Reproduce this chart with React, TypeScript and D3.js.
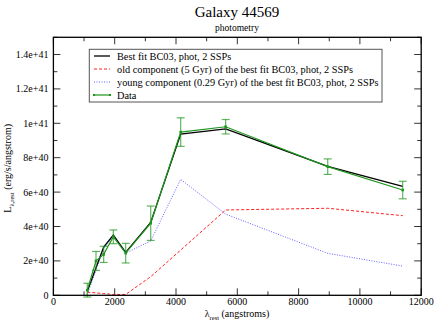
import React from "react";
import * as d3 from "d3";

const wavelengths = [1106, 1390, 1640, 1955, 2358, 3175, 4153, 5620, 8950, 11396];
const dataFlux = [0.3, 2.0, 2.38, 3.4, 2.45, 4.19, 9.49, 9.8, 7.48, 6.12];
const dataErr = [0.4, 0.55, 0.47, 0.4, 0.57, 1.0, 0.83, 0.42, 0.45, 0.51];
const bestFit = [0.23, 1.6, 2.8, 3.5, 2.5, 4.24, 9.37, 9.68, 7.5, 6.33];
const oldComp = [0.18, 0.14, 0.1, 0.05, 0.05, 1.08, 2.63, 4.96, 5.06, 4.63];
const youngComp = [0.05, 1.46, 2.7, 3.45, 2.45, 3.16, 6.74, 4.72, 2.44, 1.7];
const xTicks = [0, 2000, 4000, 6000, 8000, 10000, 12000];
const yTicks = [0, 2, 4, 6, 8, 10, 12, 14];
const yTickLabels = ["0", "2e+40", "4e+40", "6e+40", "8e+40", "1e+41", "1.2e+41", "1.4e+41"];
const legendLabels = [
  "Best fit BC03, phot, 2 SSPs",
  "old component (5 Gyr) of the best fit BC03, phot, 2 SSPs",
  "young component (0.29 Gyr) of the best fit BC03, phot, 2 SSPs",
  "Data",
];

const W = 436, H = 323;
const L = 53.4, R = 421.2, T = 37.3, B = 295.3;
const GREEN = "#1e961e";
const FONT = "Liberation Serif, Times New Roman, Times, DejaVu Serif, serif";

export default function App() {
  const x = d3.scaleLinear().domain([0, 12000]).range([L, R]);
  const y = d3.scaleLinear().domain([0, 15]).range([B, T]);
  const line = (vals: number[]) =>
    d3.line<number>().x((_, i) => x(wavelengths[i])).y((v) => y(v))(vals) || "";
  const xMinor = d3.range(0, 12001, 1000);
  const yMinor = d3.range(0, 15.01, 1);
  const legX = 89.3, legY = 49.3;
  const rowY = [56, 69, 82, 95];
  const legStyles = [
    { stroke: "#000", dash: undefined as string | undefined, w: 1.3 },
    { stroke: "#ff2020", dash: "3,2", w: 1 },
    { stroke: "#6060ff", dash: "1,1.5", w: 1 },
    { stroke: GREEN, dash: undefined, w: 1.2 },
  ];
  return (
    <svg width={W} height={H} style={{ position: "absolute", left: 0, top: 0, background: "#fff", fontFamily: FONT }}>
      <text x={237} y={17} textAnchor="middle" fontSize={15}>Galaxy 44569</text>
      <text x={237} y={31} textAnchor="middle" fontSize={9.5}>photometry</text>
      {xMinor.map((v) => (
        <g key={"xm" + v}>
          <line x1={x(v)} x2={x(v)} y1={B} y2={B - (v % 2000 === 0 ? 7 : 4)} stroke="#000" strokeWidth={0.8} />
          <line x1={x(v)} x2={x(v)} y1={T} y2={T + (v % 2000 === 0 ? 7 : 4)} stroke="#000" strokeWidth={0.8} />
        </g>
      ))}
      {yMinor.map((v) => (
        <g key={"ym" + v}>
          <line x1={L} x2={L + (v % 2 === 0 ? 7 : 4)} y1={y(v)} y2={y(v)} stroke="#000" strokeWidth={0.8} />
          <line x1={R} x2={R - (v % 2 === 0 ? 7 : 4)} y1={y(v)} y2={y(v)} stroke="#000" strokeWidth={0.8} />
        </g>
      ))}
      {xTicks.map((v) => (
        <text key={"xt" + v} x={x(v)} y={B + 10} textAnchor="middle" fontSize={10}>{v}</text>
      ))}
      {yTicks.map((v, i) => (
        <text key={"yt" + v} x={L - 5} y={y(v) + 3.5} textAnchor="end" fontSize={10}>{yTickLabels[i]}</text>
      ))}
      <text x={237} y={317} textAnchor="middle" fontSize={10}>
        λ<tspan fontSize={6.5} dy={2.5}>rest</tspan><tspan dy={-2.5}> (angstroms)</tspan>
      </text>
      <text transform={`translate(11,${(T + B) / 2 + 2}) rotate(-90)`} textAnchor="middle" fontSize={10}>
        L<tspan fontSize={6.5} dy={2.5}>λ,rest</tspan><tspan dy={-2.5}> (erg/s/angstrom)</tspan>
      </text>
      <path d={line(oldComp)} fill="none" stroke="#ff2020" strokeWidth={1} strokeDasharray="3,2" />
      <path d={line(youngComp)} fill="none" stroke="#6060ff" strokeWidth={1} strokeDasharray="1,1.5" />
      <path d={line(bestFit)} fill="none" stroke="#000" strokeWidth={1.3} />
      <path d={line(dataFlux)} fill="none" stroke={GREEN} strokeWidth={1.2} />
      {wavelengths.map((w, i) => {
        const cx = x(w);
        const y1 = y(dataFlux[i] + dataErr[i]);
        const y2 = y(dataFlux[i] - dataErr[i]);
        return (
          <g key={"e" + i} stroke={GREEN} strokeOpacity={0.7} strokeWidth={1.2}>
            <line x1={cx} x2={cx} y1={y1} y2={y2} />
            <line x1={cx - 4} x2={cx + 4} y1={y1} y2={y1} />
            <line x1={cx - 4} x2={cx + 4} y1={y2} y2={y2} />
            <rect x={cx - 1.3} y={y(dataFlux[i]) - 1.3} width={2.6} height={2.6} fill={GREEN} stroke="none" />
          </g>
        );
      })}
      <rect x={L} y={T} width={R - L} height={B - T} fill="none" stroke="#000" strokeWidth={1.3} />
      <rect x={legX} y={legY} width={382 - legX} height={102 - legY} fill="#fff" stroke="#555" strokeWidth={1} />
      {legendLabels.map((lab, i) => (
        <g key={"lg" + i}>
          <line x1={94} x2={110} y1={rowY[i]} y2={rowY[i]} stroke={legStyles[i].stroke} strokeWidth={legStyles[i].w} strokeDasharray={legStyles[i].dash} />
          {i === 3 && (
            <>
              <rect x={93} y={rowY[i] - 1} width={2} height={2} fill={GREEN} />
              <rect x={109} y={rowY[i] - 1} width={2} height={2} fill={GREEN} />
            </>
          )}
          <text x={117} y={rowY[i] + 3.5} fontSize={10.3}>{lab}</text>
        </g>
      ))}
    </svg>
  );
}
